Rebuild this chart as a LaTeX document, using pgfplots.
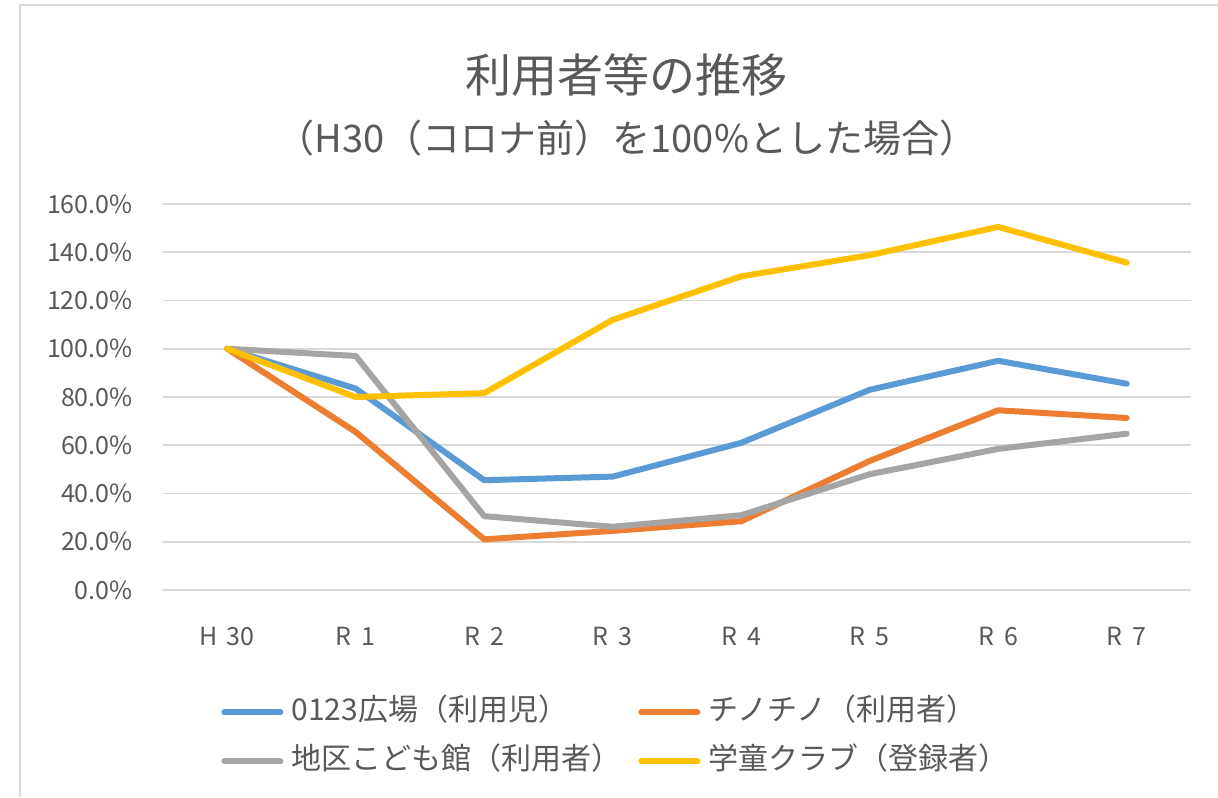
\documentclass[border=0pt]{standalone}
\usepackage{pgfplots}
\pgfplotsset{compat=1.18}
\usepackage{fontspec}
\setmainfont{Noto Sans CJK JP}
\definecolor{cblue}{HTML}{5B9BD5}
\definecolor{corange}{HTML}{ED7D31}
\definecolor{cgray}{HTML}{A5A5A5}
\definecolor{cyellow}{HTML}{FFC000}
\definecolor{ctext}{HTML}{595959}
\definecolor{cgrid}{HTML}{D9D9D9}
\begin{document}
\begin{tikzpicture}
\useasboundingbox (0,0) rectangle (609pt,398.5pt);
\fill[white] (0,0) rectangle (609pt,398.5pt);
\draw[cgrid, line width=1.2pt] (10pt,0) -- (10pt,396pt) -- (609pt,396pt);
\node[text=ctext, font=\fontsize{23pt}{28pt}\selectfont] at (313pt,361pt) {利用者等の推移};
\node[text=ctext, font=\fontsize{19pt}{23pt}\selectfont] at (313.5pt,329.5pt) {（H30（コロナ前）を100\%とした場合）};
\begin{axis}[
  at={(81.5pt,103.5pt)}, anchor=south west,
  scale only axis, width=514pt, height=193pt,
  xmin=-0.5, xmax=7.5, ymin=0, ymax=160,
  xtick={0,1,2,3,4,5,6,7},
  xticklabels={H\hspace{0.35em}30,R\hspace{0.4em}1,R\hspace{0.4em}2,R\hspace{0.4em}3,R\hspace{0.4em}4,R\hspace{0.4em}5,R\hspace{0.4em}6,R\hspace{0.4em}7},
  ytick={0,20,40,60,80,100,120,140,160},
  yticklabel={\pgfmathprintnumber[fixed,fixed zerofill,precision=1]{\tick}\%},
  /pgf/number format/assume math mode=true,
  axis line style={draw=none},
  major tick length=0pt,
  ymajorgrids, grid style={cgrid, line width=0.8pt},
  tick label style={text=ctext, font=\fontsize{12.5pt}{15pt}\selectfont, inner sep=0pt},
  yticklabel style={anchor=east, xshift=-15pt},
  xticklabel style={anchor=center, yshift=-23pt},
  legend columns=2,
  legend cell align=left,
  legend style={at={(0,0)}, anchor=north west, xshift=29pt, yshift=-54pt,
    draw=none, fill=none, inner sep=0pt, row sep=10.5pt,
    font=\fontsize{15pt}{18pt}\selectfont, text=ctext,
    /tikz/every odd column/.append style={column sep=4pt},
    /tikz/every even column/.append style={column sep=8.5pt},
    nodes={inner sep=0pt, text height=11pt, text depth=3pt}},
  legend image code/.code={\draw[#1, line width=3pt, line cap=round] (0pt,0pt) -- (28pt,0pt);},
  every axis plot/.append style={line width=3pt, line join=round, line cap=round, mark=none},
]
\addplot[cblue] coordinates {(0,100) (1,83.5) (2,45.5) (3,47) (4,61) (5,83) (6,95) (7,85.5)};
\addlegendentry{0123広場（利用児）}
\addplot[corange] coordinates {(0,100) (1,65.5) (2,21) (3,24.5) (4,28.5) (5,53.5) (6,74.5) (7,71.3)};
\addlegendentry{チノチノ（利用者）}
\addplot[cgray] coordinates {(0,100) (1,97) (2,30.6) (3,26.2) (4,31) (5,48) (6,58.5) (7,64.8)};
\addlegendentry{地区こども館（利用者）}
\addplot[cyellow] coordinates {(0,100) (1,80) (2,81.6) (3,112) (4,130) (5,138.8) (6,150.5) (7,135.7)};
\addlegendentry{学童クラブ（登録者）}
\end{axis}
\end{tikzpicture}
\end{document}
